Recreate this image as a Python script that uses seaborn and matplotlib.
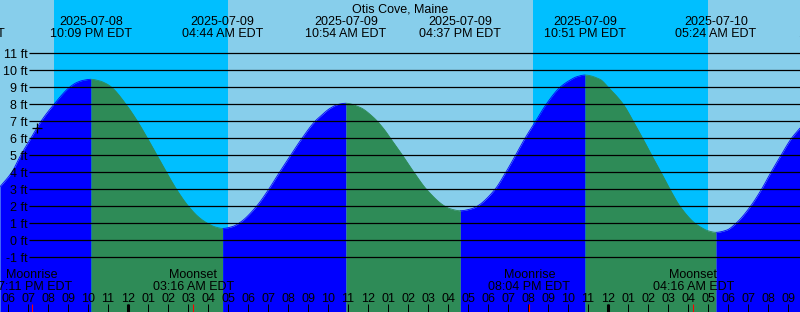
import numpy as np
import pandas as pd
import matplotlib
matplotlib.use("Agg")
import matplotlib.pyplot as plt
import matplotlib.transforms as mtransforms
import seaborn as sns

# ---------------- data (time = hours after 2025-07-08 18:00 EDT) ----------------
title = "Otis Cove, Maine"

curve_t = [-0.4, 0.185, 0.635, 1.14, 1.65, 2.3, 3.075, 3.435, 3.765, 4.15,
           4.6, 4.935, 5.185, 5.9, 6.475, 6.975, 7.45, 7.925, 8.425, 9.025,
           9.6, 10.1, 10.35, 10.733,
           11.2, 11.6, 12.425, 13.035, 13.575, 14.13, 14.7, 15.35, 15.625, 16.1,
           16.5, 16.9,
           17.6, 18.265, 18.765, 19.185, 19.725, 20.3, 20.925, 21.85, 22.1, 22.617,
           23.185, 23.45, 24.35, 24.89, 25.375, 25.85, 26.38, 26.91, 27.6, 28.1,
           28.435, 28.85,
           29.6, 30.015, 30.765, 31.265, 31.735, 32.185, 32.65, 33.1, 33.6, 34.35,
           34.6, 35.0, 35.4,
           35.935, 36.4, 37.125, 37.675, 38.15, 38.65, 39.175, 39.6]
curve_h = [3.15, 4.0, 5.0, 6.0, 7.0, 8.0, 9.0, 9.28, 9.41, 9.47,
           9.37, 9.2, 9.0, 8.0, 7.0, 6.0, 5.0, 4.0, 3.0, 2.0,
           1.3, 0.92, 0.79, 0.70,
           0.8, 1.05, 2.0, 3.0, 4.0, 5.0, 6.0, 7.0, 7.3, 7.76,
           7.99, 8.06,
           7.82, 7.24, 6.59, 5.9, 5.0, 4.0, 3.0, 2.0, 1.86, 1.74,
           1.86, 2.0, 3.0, 4.0, 5.0, 6.0, 7.0, 8.0, 9.0, 9.42,
           9.62, 9.72,
           9.47, 9.0, 8.0, 7.0, 6.0, 5.0, 4.0, 3.0, 2.0, 1.0,
           0.8, 0.56, 0.47,
           0.6, 1.0, 2.0, 3.0, 4.0, 5.0, 6.0, 6.6]

event_t = [-2.2, 4.15, 10.733, 16.9, 22.617, 28.85, 35.4, 41.55]
event_date = ["2025-07-08", "2025-07-08", "2025-07-09", "2025-07-09",
              "2025-07-09", "2025-07-09", "2025-07-10", "2025-07-10"]
event_time = ["03:48 PM EDT", "10:09 PM EDT", "04:44 AM EDT", "10:54 AM EDT",
              "04:37 PM EDT", "10:51 PM EDT", "05:24 AM EDT", "11:33 AM EDT"]

night_start = [2.283, 26.267]
night_end = [10.983, 34.983]

moon_t = [1.183, 9.267, 26.067, 34.267]
moon_name = ["Moonrise", "Moonset", "Moonrise", "Moonset"]
moon_time = ["07:11 PM EDT", "03:16 AM EDT", "08:04 PM EDT", "04:16 AM EDT"]

hour_t = list(range(-1, 41))
hour_labels = ["%02d" % (((18 + h) % 12) or 12) for h in hour_t]
midnight_t = [6, 30]

height_levels = list(range(-1, 12))
height_labels = ["%d ft" % v for v in height_levels]

mark_t, mark_h = 1.465, 6.59

# ---------------- styling ----------------
DAY = "#87CEEB"
NIGHT = "#00BFFF"
RISE = "#0000FF"
FALL = "#2E8B57"

sns.set_style("white")
plt.rcParams['font.family'] = ['Liberation Sans', 'DejaVu Sans']
FS = 9

W, H = 800, 312
X0, PXH = 8.0, 20.0
Y0, PXF = 240.3, 17.0
xlim = ((0 - X0) / PXH, (W - X0) / PXH)
ylim = ((Y0 - H) / PXF, Y0 / PXF)


def smooth_path(x, y, xn):
    """Monotone cubic (Fritsch-Carlson) curve drawn through the read points."""
    x = np.asarray(x, float)
    y = np.asarray(y, float)
    hh = np.diff(x)
    d = np.diff(y) / hh
    m = np.zeros_like(y)
    m[0], m[-1] = d[0], d[-1]
    for k in range(1, len(x) - 1):
        if d[k - 1] * d[k] <= 0:
            m[k] = 0.0
        else:
            w1 = 2 * hh[k] + hh[k - 1]
            w2 = hh[k] + 2 * hh[k - 1]
            m[k] = (w1 + w2) / (w1 / d[k - 1] + w2 / d[k])
    idx = np.clip(np.searchsorted(x, xn) - 1, 0, len(x) - 2)
    h_ = hh[idx]
    s = (xn - x[idx]) / h_
    h00 = 2 * s**3 - 3 * s**2 + 1
    h10 = s**3 - 2 * s**2 + s
    h01 = -2 * s**3 + 3 * s**2
    h11 = s**3 - s**2
    return h00 * y[idx] + h10 * h_ * m[idx] + h01 * y[idx + 1] + h11 * h_ * m[idx + 1]


fig = plt.figure(figsize=(W / 100, H / 100), dpi=100)
fig.patch.set_facecolor(DAY)
ax = fig.add_axes([0, 0, 1, 1])
ax.set_facecolor(DAY)

for s, e in zip(night_start, night_end):
    ax.axvspan(s, e, color=NIGHT, lw=0, zorder=0)

# segments between extremes
inner_events = [et for et in event_t if curve_t[0] < et < curve_t[-1]]
bounds = [curve_t[0]] + inner_events + [curve_t[-1]]
rows = []
for k in range(len(bounds) - 1):
    a, b = bounds[k], bounds[k + 1]
    tt = np.linspace(a, b, max(int((b - a) * 20), 2) + 1)
    hv = smooth_path(curve_t, curve_h, tt)
    phase = "rising" if hv[-1] > hv[0] else "falling"
    col = RISE if phase == "rising" else FALL
    ax.fill_between(tt, hv, ylim[0] - 1, color=col, lw=0, zorder=1)
    for ti, hi in zip(tt, hv):
        rows.append({"t": ti, "h": hi, "seg": k, "phase": phase})
df = pd.DataFrame(rows)
sns.lineplot(data=df, x="t", y="h", hue="phase", units="seg", estimator=None,
             palette={"rising": RISE, "falling": FALL}, lw=0.6, legend=False,
             sort=False, ax=ax, zorder=2)

# horizontal height lines
ax.hlines(height_levels, (29.3 - X0) / PXH, xlim[1], color="black", lw=0.9, zorder=3)

ax.set_xlim(*xlim)
ax.set_ylim(*ylim)
ax.set_axis_off()

tx = mtransforms.blended_transform_factory(ax.transData, fig.transFigure)
ty = mtransforms.blended_transform_factory(fig.transFigure, ax.transData)


def fy(p):
    return 1 - p / H


# y labels
for v, lab in zip(height_levels, height_labels):
    ax.text(27.5 / W, v - 4.3 / PXF, lab, transform=ty, ha="right", va="baseline",
            fontsize=FS, color="black", zorder=5)

# title
fig.text(0.5, fy(12.7), title, ha="center", va="baseline", fontsize=FS, color="black")

# tide event labels
for t, d, tm in zip(event_t, event_date, event_time):
    ax.text(t, fy(25.0), d, transform=tx, ha="center", va="baseline", fontsize=FS,
            color="black", zorder=5, clip_on=False)
    ax.text(t, fy(36.7), tm, transform=tx, ha="center", va="baseline", fontsize=FS,
            color="black", zorder=5, clip_on=False)

# moon labels
for t, n, tm in zip(moon_t, moon_name, moon_time):
    ax.text(t, fy(278.3), n, transform=tx, ha="center", va="baseline", fontsize=FS,
            color="black", zorder=5)
    ax.text(t, fy(290.0), tm, transform=tx, ha="center", va="baseline", fontsize=FS,
            color="black", zorder=5)

# hour labels and ticks
for t, lab in zip(hour_t, hour_labels):
    ax.text(t, fy(301.7), lab, transform=tx, ha="center", va="baseline", fontsize=FS,
            color="black", zorder=5)
ax.vlines(hour_t, fy(312), fy(304.3), transform=tx, color="black", lw=0.72, zorder=4)
ax.vlines(midnight_t, fy(312), fy(303.5), transform=tx, color="black", lw=2.2, zorder=4)
ax.vlines(moon_t, fy(312), fy(303.5), transform=tx, color="red", lw=0.8, zorder=4)

# current-time marker
ax.plot([mark_t], [mark_h], marker="+", color="black", ms=7.5, mew=0.9, zorder=6)

fig.savefig("out.png", dpi=100, facecolor=DAY)
